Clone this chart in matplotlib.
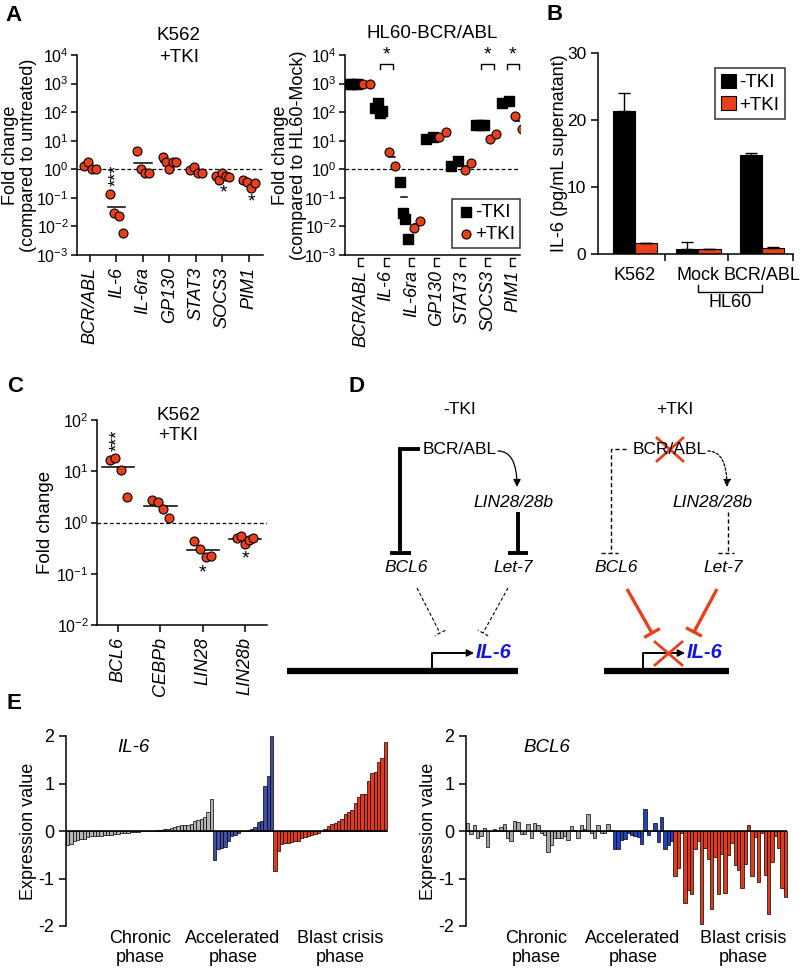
import numpy as np
import matplotlib
matplotlib.use("Agg")
import matplotlib.pyplot as plt
from matplotlib.patches import FancyArrowPatch
from matplotlib.ticker import LogLocator, NullLocator
import matplotlib.transforms as mtransforms

plt.rcParams['font.family'] = ['Liberation Sans', 'DejaVu Sans']
plt.rcParams['mathtext.fontset'] = 'custom'
plt.rcParams['mathtext.rm'] = 'Liberation Sans'
plt.rcParams['mathtext.it'] = 'Liberation Sans:italic'
plt.rcParams['axes.unicode_minus'] = False
plt.rcParams['font.size'] = 12.5

RED = '#e8401c'

# ---------------- data ----------------
# A left: K562 +TKI fold change (compared to untreated)
genes_a = ['BCR/ABL', 'IL-6', 'IL-6ra', 'GP130', 'STAT3', 'SOCS3', 'PIM1']
k562_fc = [[1.35, 1.85, 1.0, 1.0],
           [0.137, 0.029, 0.023, 0.0057],
           [4.2, 1.0, 0.76, 0.76],
           [2.6, 1.76, 1.0, 1.76, 1.76],
           [0.95, 1.24, 0.76, 0.76],
           [0.58, 0.42, 0.72, 0.58, 0.52],
           [0.42, 0.37, 0.22, 0.32]]

# A right: HL60-BCR/ABL (compared to HL60-Mock)
hl60_minus = [[1000, 1000, 1000],
              [137, 215, 96, 110],
              [0.37, 0.03, 0.018, 0.0035],
              [11.5, 14],
              [1.35, 1.95],
              [35, 35, 35],
              [215, 250]]
hl60_plus = [[1000, 1000],
             [4.0, 1.35],
             [0.0085, 0.015],
             [13, 21],
             [0.95, 1.6],
             [11.3, 17],
             [75, 25]]

# B: IL-6 ELISA
groups_b = ['K562', 'Mock', 'BCR/ABL']
il6_minus = [21.3, 0.7, 14.8]
il6_minus_err = [2.8, 1.1, 0.3]
il6_plus = [1.6, 0.7, 0.85]
il6_plus_err = [0.1, 0.1, 0.15]

# C: K562 +TKI
genes_c = ['BCL6', 'CEBPb', 'LIN28', 'LIN28b']
c_fc = [[16.7, 18.3, 10.6, 3.1],
        [2.8, 2.5, 1.8, 1.2],
        [0.44, 0.31, 0.21, 0.22],
        [0.49, 0.55, 0.38, 0.45, 0.49]]

# E: expression values (chronic, accelerated, blast crisis)
il6_cp = [-0.30, -0.28, -0.22, -0.18, -0.17, -0.16, -0.12, -0.11, -0.11, -0.10,
          -0.10, -0.09, -0.08, -0.08, -0.07, -0.06, -0.05, -0.05, -0.04, -0.03,
          -0.03, -0.02, -0.01, -0.01, 0.0, 0.01, 0.01, 0.02, 0.03, 0.04,
          0.05, 0.06, 0.08, 0.10, 0.12, 0.12, 0.13, 0.15, 0.22, 0.24,
          0.25, 0.30, 0.40, 0.67]
il6_ap = [-0.60, -0.37, -0.36, -0.33, -0.20, -0.10, -0.08, -0.04, 0.0,
          0.01, 0.03, 0.05, 0.08, 0.20, 0.22, 0.95, 1.15, 2.0]
il6_bc = [-0.85, -0.42, -0.28, -0.25, -0.25, -0.24, -0.22, -0.20, -0.15, -0.12,
          -0.10, -0.09, -0.07, -0.05, 0.0, 0.05, 0.10, 0.14, 0.17, 0.22,
          0.25, 0.35, 0.40, 0.45, 0.60, 0.72, 0.78, 0.78, 1.05, 1.22,
          1.25, 1.45, 1.53, 1.87]
bcl6_cp = [0.16, -0.07, 0.13, -0.15, -0.10, 0.06, -0.33, 0.0, 0.04, 0.01,
           0.08, 0.14, -0.15, -0.20, 0.22, 0.20, -0.07, -0.07, 0.15, -0.15,
           0.17, 0.12, -0.05, -0.08, -0.45, -0.30, -0.15, -0.15, -0.15, -0.10,
           -0.18, 0.10, 0.03, -0.15, 0.12, 0.05, 0.35, -0.05, -0.15, 0.12,
           -0.05, -0.05, 0.15, 0.03]
bcl6_ap = [-0.38, -0.37, -0.18, -0.17, -0.05, -0.08, -0.10, -0.12, -0.28,
           0.47, -0.08, 0.0, 0.17, -0.23, 0.30, -0.37, -0.30, -0.20]
bcl6_bc = [-0.95, -0.78, -0.05, -1.52, -1.25, -1.33, -0.37, -0.20, -1.95, -0.35,
           -0.58, -1.65, -0.55, -1.33, -0.48, -1.30, -0.50, -0.25, -0.72, -0.82,
           -1.20, -0.70, 0.13, -0.95, -0.12, -1.08, -0.05, -0.92, -1.75, -0.65,
           -0.10, -0.35, -1.20, -1.38]

W, H = 800, 969
fig = plt.figure(figsize=(W / 100, H / 100), dpi=100)


def rect(x0, y0, x1, y1):
    return [x0 / W, 1 - y1 / H, (x1 - x0) / W, (y1 - y0) / H]


def style(ax):
    ax.spines['top'].set_visible(False)
    ax.spines['right'].set_visible(False)
    for s in ('left', 'bottom'):
        ax.spines[s].set_linewidth(1.1)
    ax.tick_params(direction='out', length=5, width=1.1, labelsize=12.5)


def log_axis(ax, lo, hi):
    ax.set_yscale('log')
    ax.set_ylim(lo, hi)
    ax.yaxis.set_major_locator(LogLocator(base=10, numticks=12))
    ax.yaxis.set_minor_locator(NullLocator())
    ax.tick_params(axis='y', labelsize=11.5, pad=1.5, length=4.5)
    ax.axhline(1, color='k', lw=0.9, ls=(0, (3, 2)), zorder=1)


def dots(ax, data, spread=0.24, mean_w=0.33):
    for i, vals in enumerate(data):
        xs = i + np.linspace(-spread, spread, len(vals))
        ax.scatter(xs, vals, s=42, c=RED, edgecolors='k', linewidths=0.8, zorder=3)
        m = np.mean(vals)
        ax.plot([i - mean_w, i + mean_w], [m, m], color='k', lw=1.1, zorder=2)


# ---------------- A left ----------------
ax = fig.add_axes(rect(77, 55, 263, 255))
style(ax)
log_axis(ax, 1e-3, 1e4)
dots(ax, k562_fc)
ax.set_xlim(-0.49, 6.53)
ax.set_xticks(range(len(genes_a)))
ax.set_xticklabels(genes_a, rotation=90, style='italic', fontsize=13)
ax.set_ylabel('Fold change\n(compared to untreated)', fontsize=13, linespacing=1.1)
ax.yaxis.set_label_coords(-0.215, 0.5)
ax.text(0.548, 1.14, 'K562', transform=ax.transAxes, ha='center', va='top', fontsize=13.5)
ax.text(0.548, 1.03, '+TKI', transform=ax.transAxes, ha='center', va='top', fontsize=13.5)
ax.text(1, 0.63, '***', rotation=90, ha='center', va='center', fontsize=13)
ax.text(5.05, 0.15, '*', ha='center', va='center', fontsize=14)
ax.text(6.1, 0.072, '*', ha='center', va='center', fontsize=14)

# ---------------- A right ----------------
ax = fig.add_axes(rect(345, 55, 520, 255))
style(ax)
log_axis(ax, 1e-3, 1e4)
for i in range(len(genes_a)):
    vm = hl60_minus[i]
    vp = hl60_plus[i]
    xm = i - 0.3 + np.linspace(-0.14, 0.14, len(vm))
    xp = i + 0.22 + np.linspace(-0.12, 0.12, len(vp))
    ax.scatter(xm, vm, marker='s', s=42, c='k', zorder=3, label='-TKI' if i == 0 else None)
    ax.scatter(xp, vp, s=42, c=RED, edgecolors='k', linewidths=0.8, zorder=3,
               label='+TKI' if i == 0 else None)
    for xc, v in ((i - 0.3, vm), (i + 0.22, vp)):
        m = np.mean(v)
        ax.plot([xc - 0.12, xc + 0.12], [m, m], color='k', lw=1.1, zorder=2)
ax.set_xlim(-0.63, 6.28)
ax.set_xticks(range(len(genes_a)))
ax.set_xticklabels(genes_a, rotation=90, style='italic', fontsize=13)
ax.tick_params(axis='x', length=0, pad=11)
tb = mtransforms.blended_transform_factory(ax.transData, ax.transAxes)
for i in range(len(genes_a)):
    ax.plot([i + 0.1, i - 0.1, i - 0.1, i + 0.1], [-0.015, -0.015, -0.055, -0.055],
            color='k', lw=1, transform=tb, clip_on=False)
for i in (1, 5, 6):
    ax.plot([i - 0.25, i - 0.25, i + 0.25, i + 0.25], [10 ** 3.5, 10 ** 3.69, 10 ** 3.69, 10 ** 3.5],
            color='k', lw=1, clip_on=False)
    ax.text(i, 10 ** 3.72, '*', ha='center', va='bottom', fontsize=14)
ax.set_ylabel('Fold change\n(compared to HL60-Mock)', fontsize=13, linespacing=1.1)
ax.yaxis.set_label_coords(-0.215, 0.5)
ax.set_title('HL60-BCR/ABL', fontsize=13.5, pad=12)
leg = ax.legend(loc='lower right', bbox_to_anchor=(1.0, 0.035), fancybox=False, edgecolor='k',
                handletextpad=0.0, borderpad=0.25, labelspacing=0.3, handlelength=1.0,
                borderaxespad=0, fontsize=13.5)
leg.get_frame().set_linewidth(1.1)

# ---------------- B ----------------
ax = fig.add_axes(rect(598, 53, 793, 254))
style(ax)
xb = np.arange(len(groups_b))
bw = 0.35
ax.bar(xb - bw / 2, il6_minus, bw, color='k', edgecolor='k', lw=0.8,
       yerr=[np.zeros(3), il6_minus_err], capsize=4, error_kw=dict(lw=1, capthick=1),
       label='-TKI')
ax.bar(xb + bw / 2, il6_plus, bw, color=RED, edgecolor='k', lw=0.8,
       yerr=[np.zeros(3), il6_plus_err], capsize=4, error_kw=dict(lw=1, capthick=1),
       label='+TKI')
ax.set_xlim(-0.58, 2.49)
ax.set_ylim(0, 30)
ax.set_yticks([0, 10, 20, 30])
ax.set_xticks([0.47, 1.47, 2.49])
ax.set_xticklabels([])
ax.set_xticks(xb, minor=True)
ax.set_xticklabels(groups_b, minor=True, fontsize=13)
ax.tick_params(axis='x', which='minor', length=0, pad=9)
ax.set_ylabel('IL-6 (pg/mL supernatant)', fontsize=13)
ax.yaxis.set_label_coords(-0.154, 0.5)
tb = mtransforms.blended_transform_factory(ax.transData, ax.transAxes)
ax.plot([1, 1, 2, 2], [-0.155, -0.19, -0.19, -0.155], color='k', lw=1, transform=tb, clip_on=False)
ax.text(1.5, -0.2, 'HL60', transform=tb, ha='center', va='top', fontsize=13)
leg = ax.legend(loc='upper right', bbox_to_anchor=(0.96, 0.925), fancybox=False, edgecolor='k',
                handletextpad=0.2, borderpad=0.3, labelspacing=0.25, handlelength=0.8,
                handleheight=0.8, borderaxespad=0, fontsize=13.5)
leg.get_frame().set_linewidth(1.1)

# ---------------- C ----------------
ax = fig.add_axes(rect(97, 420, 267, 625))
style(ax)
log_axis(ax, 1e-2, 1e2)
dots(ax, c_fc, spread=0.2, mean_w=0.38)
ax.set_xlim(-0.5, 3.52)
ax.set_xticks(range(len(genes_c)))
ax.set_xticklabels(genes_c, rotation=90, style='italic', fontsize=13)
ax.set_ylabel('Fold change', fontsize=13.5)
ax.yaxis.set_label_coords(-0.25, 0.5)
ax.text(0.48, 1.065, 'K562', transform=ax.transAxes, ha='center', va='top', fontsize=13.5)
ax.text(0.48, 0.965, '+TKI', transform=ax.transAxes, ha='center', va='top', fontsize=13.5)
ax.text(0, 40, '***', rotation=90, ha='center', va='center', fontsize=13)
ax.text(2.0, 0.105, '*', ha='center', va='center', fontsize=14)
ax.text(3.0, 0.19, '*', ha='center', va='center', fontsize=14)

# ---------------- E ----------------
grp_colors = [['#b5b5b5', '#4050a8', '#e23b1b'], ['#a8a8a8', '#2342c2', '#e23b1b']]
for k, (gene, parts, x0) in enumerate([('IL-6', (il6_cp, il6_ap, il6_bc), 66),
                                       ('BCL6', (bcl6_cp, bcl6_ap, bcl6_bc), 466)]):
    ax = fig.add_axes(rect(x0, 736, x0 + 321, 926))
    vals = np.concatenate(parts)
    cols = sum([[c] * len(p) for c, p in zip(grp_colors[k], parts)], [])
    ax.bar(np.arange(len(vals)), vals, width=1.0, color=cols, edgecolor='k', lw=0.5, clip_on=False)
    ax.axhline(0, color='k', lw=1.2)
    ax.set_xlim(-0.5, len(vals) - 0.5)
    ax.set_ylim(-2, 2)
    ax.set_yticks([-2, -1, 0, 1, 2])
    for s in ('top', 'right', 'bottom'):
        ax.spines[s].set_visible(False)
    ax.spines['left'].set_linewidth(1.1)
    ax.tick_params(axis='y', direction='out', length=5, width=1.1, labelsize=13)
    ax.set_xticks([])
    ax.set_facecolor('none')
    ax.set_ylabel('Expression value', fontsize=13)
    ax.yaxis.set_label_coords(-0.09, 0.5)
    ax.text(0.16 + 0.018 * k, 0.94, gene, style='italic', transform=ax.transAxes,
            ha='left', va='center', fontsize=13.5)
    for xf, lab in zip([(0.23, 0.218)[k], 0.52, (0.853, 0.864)[k]],
                       ['Chronic\nphase', 'Accelerated\nphase', 'Blast crisis\nphase']):
        ax.text(xf, -0.02, lab, transform=ax.transAxes, ha='center', va='top',
                fontsize=13, linespacing=1.15)

# ---------------- overlay: letters and diagram D ----------------
ov = fig.add_axes([0, 0, 1, 1])
ov.set_xlim(0, W)
ov.set_ylim(H, 0)
ov.axis('off')
ov.set_facecolor('none')

for lab, (x, y) in zip('ABCDE', [(5, 5), (547, 4), (7, 376), (348, 376), (7, 693)]):
    ov.text(x, y, lab, fontsize=16, fontweight='bold', ha='left', va='top')


def tbar(x0, y0, x1, y1, half, **kw):
    ov.plot([x0, x1], [y0, y1], solid_capstyle='butt', **kw)
    dx, dy = x1 - x0, y1 - y0
    L = np.hypot(dx, dy)
    ox, oy = -dy / L * half, dx / L * half
    ov.plot([x1 - ox, x1 + ox], [y1 - oy, y1 + oy], solid_capstyle='butt', **kw)


def curved(xa, ya, xb_, yb, ls):
    ov.add_patch(FancyArrowPatch((xa, ya), (xb_, yb), connectionstyle='angle3,angleA=0,angleB=90',
                                 arrowstyle='-|>', mutation_scale=11, lw=0.9, color='k',
                                 linestyle=ls, shrinkA=0, shrinkB=0))


def promoter(x0, x1, xa, xtip, xt):
    ov.plot([x0, x1], [671, 671], color='k', lw=4.5, solid_capstyle='butt')
    ov.plot([xa, xa, xtip - 8], [669, 653, 653], color='k', lw=1.4)
    ov.add_patch(FancyArrowPatch((xtip - 10, 653), (xtip, 653), arrowstyle='-|>',
                                 mutation_scale=11, color='k', lw=1, shrinkA=0, shrinkB=0))
    ov.text(xt, 653, 'IL-6', color='#1515e0', fontweight='bold', style='italic',
            fontsize=14.5, ha='left', va='center')


fs_d = 12.5
# -TKI side
ov.text(460, 410, '-TKI', ha='center', va='center', fontsize=fs_d)
ov.text(460, 449, 'BCR/ABL', ha='center', va='center', fontsize=fs_d)
ov.plot([418, 400, 400], [449, 449, 553], color='k', lw=2.8, solid_joinstyle='miter')
ov.plot([390, 411], [553, 553], color='k', lw=2.8, solid_capstyle='butt')
curved(498, 451, 517, 487, '-')
ov.text(513, 502, 'LIN28/28b', style='italic', ha='center', va='center', fontsize=fs_d)
tbar(518, 512, 518, 553, 10, color='k', lw=2.8)
ov.text(406, 568, 'BCL6', style='italic', ha='center', va='center', fontsize=fs_d)
ov.text(513, 568, 'Let-7', style='italic', ha='center', va='center', fontsize=fs_d)
tbar(417, 588, 440, 633, 6, color='k', lw=0.8, ls=(0, (3, 2)))
tbar(508, 588, 483, 633, 6, color='k', lw=0.8, ls=(0, (3, 2)))
promoter(287, 518, 432, 474, 476)

# +TKI side
ov.text(675, 410, '+TKI', ha='center', va='center', fontsize=fs_d)
ov.text(670, 449, 'BCR/ABL', ha='center', va='center', fontsize=fs_d)
ov.plot([657, 683], [438, 461], color=RED, lw=2)
ov.plot([683, 657], [438, 461], color=RED, lw=2)
ov.plot([626, 611, 611], [449, 449, 553], color='k', lw=1, ls=(0, (3, 2)))
ov.plot([601, 618], [553, 553], color='k', lw=1, ls=(0, (3, 2)))
curved(708, 451, 727, 487, (0, (2, 1.5)))
ov.text(712, 502, 'LIN28/28b', style='italic', ha='center', va='center', fontsize=fs_d)
ov.plot([728, 728], [512, 553], color='k', lw=1, ls=(0, (3, 2)))
ov.plot([718, 734], [553, 553], color='k', lw=1, ls=(0, (3, 2)))
ov.text(616, 568, 'BCL6', style='italic', ha='center', va='center', fontsize=fs_d)
ov.text(723, 568, 'Let-7', style='italic', ha='center', va='center', fontsize=fs_d)
tbar(627, 589, 652, 633, 9, color=RED, lw=2.4)
tbar(717, 589, 694, 632, 9, color=RED, lw=2.4)
promoter(604, 729, 643, 685, 687)
ov.plot([655, 682], [642, 665], color=RED, lw=2)
ov.plot([682, 655], [642, 665], color=RED, lw=2)

fig.savefig('out.png', dpi=100)
